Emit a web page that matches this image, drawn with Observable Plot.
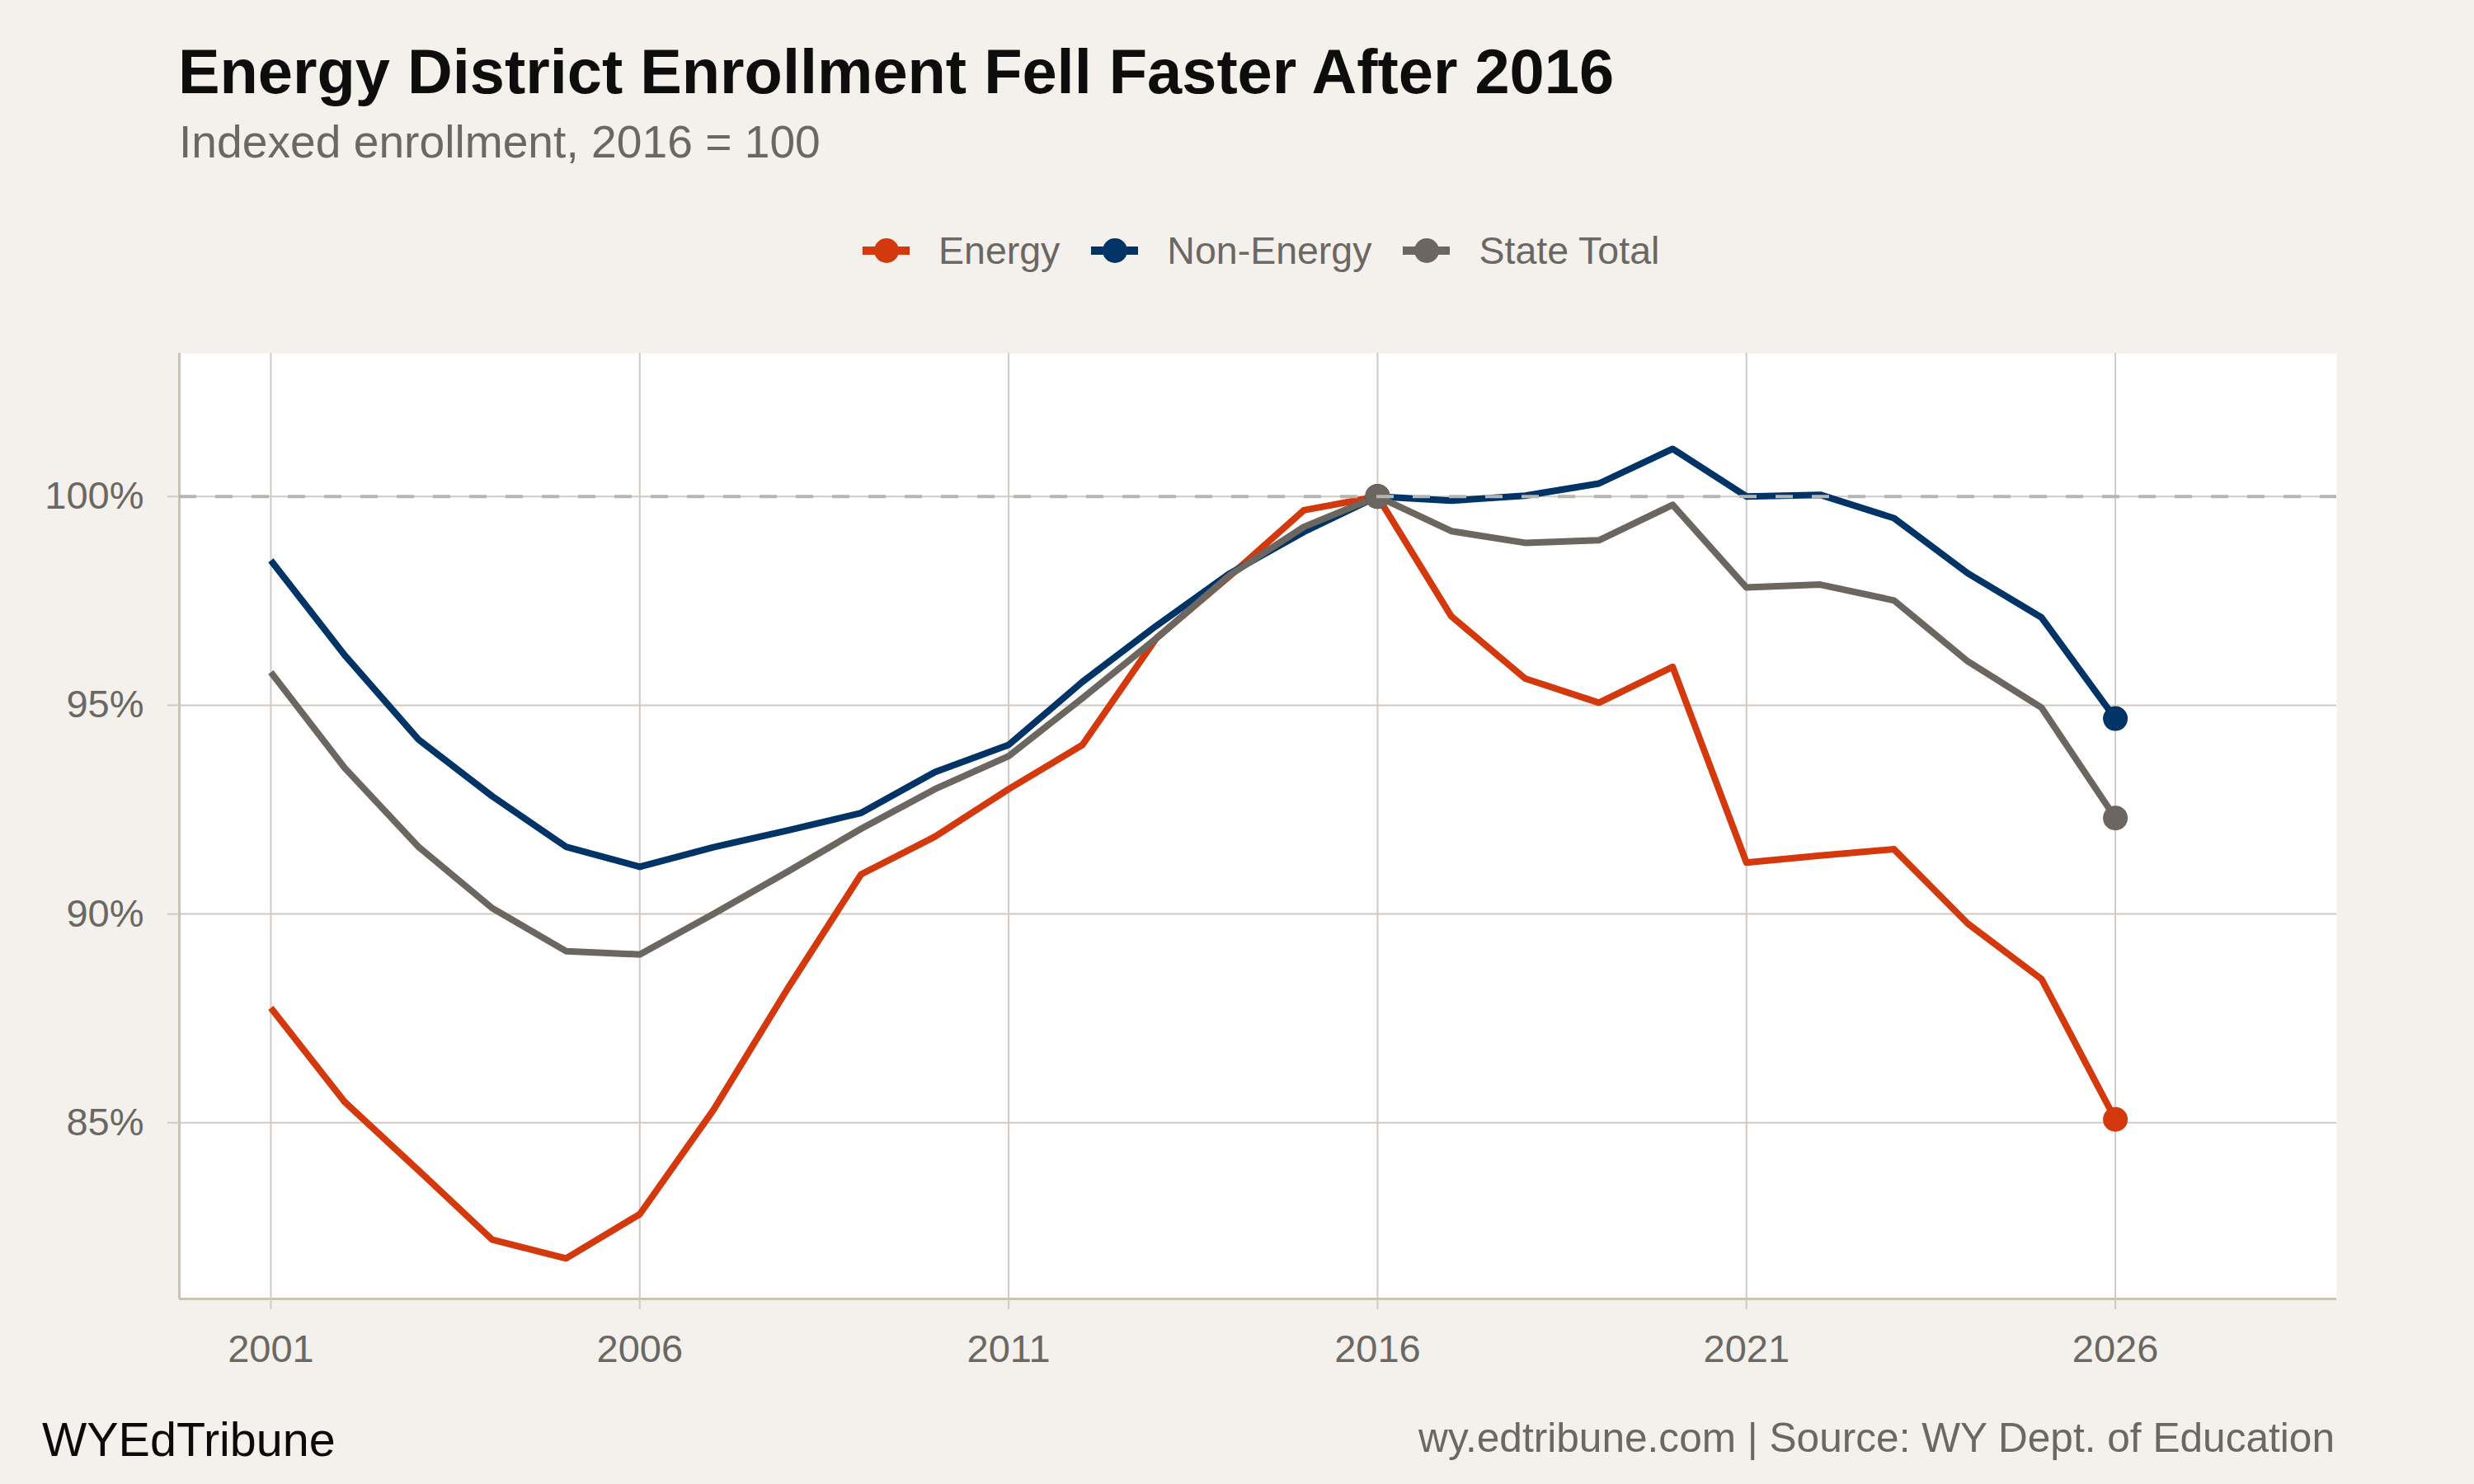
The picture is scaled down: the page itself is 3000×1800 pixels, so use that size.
<!DOCTYPE html>
<html>
<head>
<meta charset="utf-8">
<script src="https://cdn.jsdelivr.net/npm/d3@7"></script>
<script src="https://cdn.jsdelivr.net/npm/@observablehq/plot@0.6"></script>
<style>
  html, body { margin: 0; padding: 0; background: #F4F1EC; }
  #page { position: relative; width: 3000px; height: 1800px; background: #F4F1EC; font-family: "Liberation Sans", Arial, Helvetica, sans-serif; overflow: hidden; }
  .abs { position: absolute; white-space: nowrap; line-height: 1; }
  #title { left: 216px; top: 49px; font-size: 75.8px; font-weight: bold; color: #0D0D0D; }
  #subtitle { left: 217px; top: 145px; font-size: 55.2px; color: #6B6762; }
  #legend { left: 1046px; top: 281px; display: flex; align-items: center; font-size: 46.5px; color: #6B6762; height: 46px; }
  .item { display: flex; align-items: center; margin-right: 38px; }
  .key { position: relative; width: 57px; height: 10px; margin-right: 35px; }
  .key .dot { position: absolute; left: 13.5px; top: -10px; width: 30px; height: 30px; border-radius: 50%; }
  #chart { position: absolute; left: 0; top: 380px; }
  #capLeft { left: 51px; top: 1718px; font-size: 57.5px; color: #0A0A0A; }
  #capRight { right: 169px; top: 1720px; font-size: 49.6px; color: #6B6762; }
</style>
</head>
<body>
<div id="page">
  <div id="title" class="abs">Energy District Enrollment Fell Faster After 2016</div>
  <div id="subtitle" class="abs">Indexed enrollment, 2016 = 100</div>
  <div id="legend" class="abs"></div>
  <div id="chart"></div>
  <div id="capLeft" class="abs">WYEdTribune</div>
  <div id="capRight" class="abs">wy.edtribune.com | Source: WY Dept. of Education</div>
</div>
<script>
const years = [2001,2002,2003,2004,2005,2006,2007,2008,2009,2010,2011,2012,2013,2014,2015,2016,2017,2018,2019,2020,2021,2022,2023,2024,2025,2026];
const energy = [87.75,85.50,83.86,82.20,81.75,82.81,85.31,88.2,90.95,91.85,92.99,94.05,96.6,98.1,99.67,100,97.13,95.64,95.06,95.92,91.23,91.40,91.55,89.77,88.44,85.08];
const nonEnergy = [98.47,96.20,94.18,92.82,91.61,91.13,91.6,92.0,92.42,93.40,94.05,95.56,96.9,98.16,99.15,100,99.9,100.02,100.31,101.14,100.0,100.04,99.48,98.16,97.10,94.68];
const stateTotal = [95.79,93.50,91.61,90.14,89.11,89.03,90.0,91.01,92.04,92.99,93.78,95.17,96.6,98.12,99.27,100,99.17,98.89,98.95,99.80,97.82,97.89,97.51,96.05,94.94,92.30];
const seriesNames = ["Energy","Non-Energy","State Total"];
const seriesColors = ["#D4380D","#003366","#6B6660"];
const xTicks = [2001,2006,2011,2016,2021,2026];
const yTicks = [85,90,95,100];
const highlightYears = [2016,2026];
const baseline = 100;
const xDomain = [1999.76, 2029.0];
const yDomain = [80.78, 103.43];

const seriesValues = [energy, nonEnergy, stateTotal];
const data = [];
seriesNames.forEach((s, i) => years.forEach((y, j) => data.push({series: s, year: y, value: seriesValues[i][j]})));
const dots = data.filter(d => highlightYears.includes(d.year));

const gridColor = "#D0CAC2";
const axisColor = "#C9C3BA";
const textColor = "#6B6762";

const chart = Plot.plot({
  width: 3000,
  height: 1320,
  marginTop: 48,
  marginBottom: 125,
  marginLeft: 217,
  marginRight: 167,
  style: {background: "transparent", fontFamily: "'Liberation Sans', Arial, sans-serif", overflow: "visible"},
  x: {domain: xDomain, axis: null},
  y: {domain: yDomain, axis: null},
  color: {domain: seriesNames, range: seriesColors},
  marks: [
    Plot.frame({fill: "white", stroke: null}),
    Plot.gridX(xTicks, {stroke: gridColor, strokeOpacity: 1, strokeWidth: 2}),
    Plot.gridY(yTicks, {stroke: gridColor, strokeOpacity: 1, strokeWidth: 2}),
    Plot.ruleX([xDomain[0]], {stroke: axisColor, strokeWidth: 3}),
    Plot.ruleY([yDomain[0]], {stroke: axisColor, strokeWidth: 3}),
    Plot.axisX({ticks: xTicks, tickFormat: d => String(d), tickSize: 13, tickPadding: 30, fontSize: 47, stroke: gridColor, strokeWidth: 2, fill: textColor, label: null}),
    Plot.axisY({ticks: yTicks, tickFormat: d => d + "%", tickSize: 14, tickPadding: 29, fontSize: 47, stroke: gridColor, strokeWidth: 2, fill: textColor, label: null}),
    Plot.line(data, {x: "year", y: "value", z: "series", stroke: "series", strokeWidth: 8, strokeLinecap: "butt", strokeLinejoin: "round"}),
    Plot.dot(dots, {x: "year", y: "value", fill: "series", r: 15, stroke: null}),
    Plot.ruleY([baseline], {stroke: "#B5B5B5", strokeWidth: 4, strokeDasharray: "21,23"})
  ]
});
document.getElementById("chart").appendChild(chart);

const legend = document.getElementById("legend");
seriesNames.forEach((s, i) => {
  const item = document.createElement("div");
  item.className = "item";
  const key = document.createElement("span");
  key.className = "key";
  key.style.background = seriesColors[i];
  const dot = document.createElement("span");
  dot.className = "dot";
  dot.style.background = seriesColors[i];
  key.appendChild(dot);
  const label = document.createElement("span");
  label.textContent = s;
  item.appendChild(key);
  item.appendChild(label);
  legend.appendChild(item);
});
</script>
</body>
</html>
